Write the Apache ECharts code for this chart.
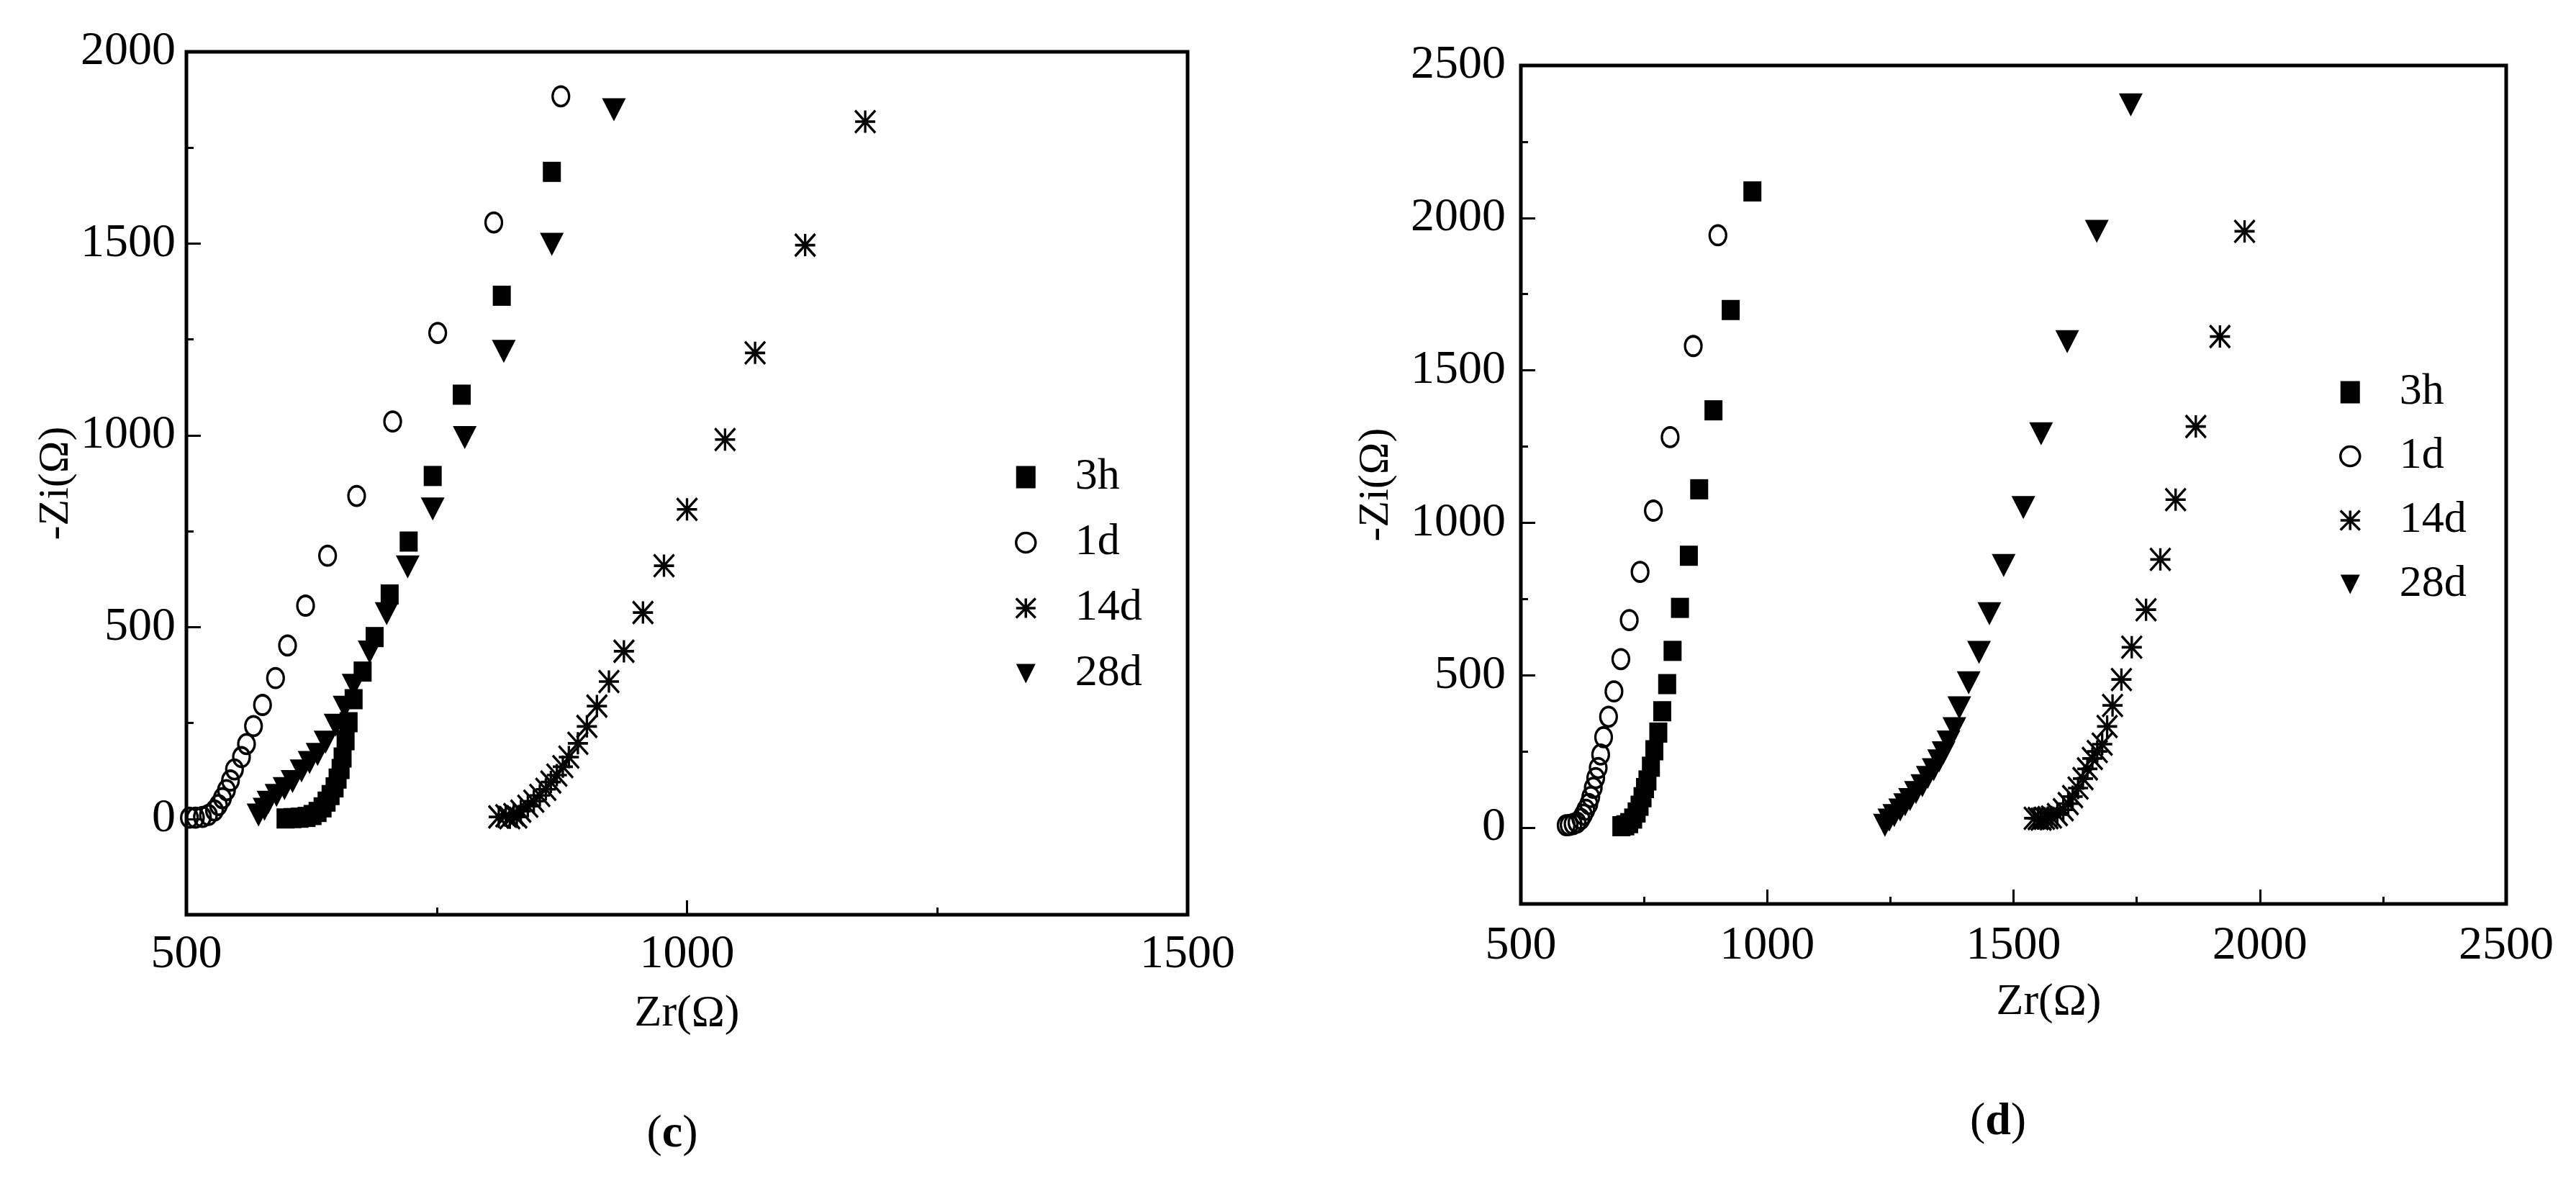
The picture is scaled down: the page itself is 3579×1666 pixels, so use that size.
<!DOCTYPE html>
<html>
<head>
<meta charset="utf-8">
<script src="https://cdn.jsdelivr.net/npm/echarts@6/dist/echarts.min.js"></script>
<style>
html,body{margin:0;padding:0;background:#fff;}
#chart{width:3579px;height:1666px;}
</style>
</head>
<body>
<div id="chart"></div>
<script>
// ---------- data ----------
const seriesNames = ['3h', '1d', '14d', '28d'];

const xMinC = 500, xMaxC = 1500;
const xMinD = 500, xMaxD = 2500;
const yMin = -250, yMaxC = 2000, yMaxD = 2500;
const yTicksC = [0, 500, 1000, 1500, 2000];
const yMinorC = [250, 750, 1250, 1750];
const yTicksD = [0, 500, 1000, 1500, 2000, 2500];
const yMinorD = [250, 750, 1250, 1750, 2250];

// panel (c)
const c3h = [[599,1],[606,2],[613,3],[620,5],[626,10],[631,18],[636,30],[640,45],[644,62],[648,82],[651,105],[654,130],[656,160],[659,205],[662,252],[667,312],[676,384],[688,474],[703,585],[722,723],[746,894],[775,1106],[815,1364],[865,1687]];
const c1d = [[503,3],[509,3],[516,5],[522,10],[528,22],[532,36],[536,54],[540,75],[544,100],[548,129],[555,161],[560,195],[567,242],[576,297],[589,367],[601,452],[619,556],[641,686],[670,842],[706,1036],[751,1267],[807,1555],[874,1884]];
const c14d = [[812,5],[819,8],[823,3],[827,11],[830,5],[834,20],[841,33],[847,46],[853,61],[859,77],[864,96],[870,114],[876,136],[882,161],[891,197],[900,241],[910,294],[922,358],[937,437],[956,538],[977,660],[1000,807],[1038,989],[1068,1215],[1118,1496],[1178,1818]];
const c28d = [[572,10],[578,25],[582,43],[590,61],[598,79],[606,97],[615,125],[623,147],[631,168],[639,200],[649,244],[658,291],[667,348],[683,435],[700,535],[721,657],[746,808],[778,994],[817,1219],[865,1498],[927,1849]];

// panel (d)
const d3h = [[704,5],[712,8],[720,15],[728,30],[735,50],[741,72],[747,100],[752,130],[757,155],[764,200],[771,254],[779,312],[787,382],[797,471],[808,580],[823,721],[841,892],[862,1110],[891,1369],[926,1698],[970,2087]];
const d1d = [[592,8],[598,9],[606,12],[614,17],[622,29],[627,43],[632,59],[638,78],[642,101],[647,131],[652,163],[657,196],[662,240],[668,297],[678,364],[689,447],[703,553],[720,681],[742,839],[769,1040],[803,1281],[850,1580],[900,1943]];
const d14d = [[1542,31],[1550,30],[1556,28],[1563,31],[1570,33],[1577,35],[1589,43],[1601,59],[1611,79],[1620,102],[1631,130],[1641,161],[1650,193],[1660,227],[1670,250],[1680,274],[1690,332],[1701,401],[1719,486],[1740,592],[1769,715],[1798,880],[1829,1076],[1870,1316],[1919,1611],[1969,1956]];
const d28d = [[1239,8],[1248,25],[1258,40],[1270,58],[1280,75],[1290,92],[1302,115],[1315,138],[1326,165],[1338,190],[1349,219],[1358,246],[1368,281],[1380,325],[1390,393],[1409,475],[1430,575],[1451,702],[1480,860],[1520,1050],[1556,1292],[1609,1594],[1669,1956],[1738,2371]];

const panelC = [c3h, c1d, c14d, c28d];
const panelD = [d3h, d1d, d14d, d28d];

// ---------- styles ----------
const FONT = 'Liberation Serif';
const ellipsePath = 'path://M0,-1C0.5523,-1 1,-0.5523 1,0C1,0.5523 0.5523,1 0,1C-0.5523,1 -1,0.5523 -1,0C-1,-0.5523 -0.5523,-1 0,-1Z';
const starPath = 'path://M0,-1L0,1M-1,0L1,0M-1,-1L1,1M-1,1L1,-1';
const triDownPath = 'path://M0,0L2,0L1,2Z';

const symbolStyles = [
  { symbol: 'rect', symbolSize: [25, 28], itemStyle: { color: '#000', borderColor: '#000', borderWidth: 0, opacity: 1 } },
  { symbol: ellipsePath, symbolSize: [23, 27], itemStyle: { color: 'rgba(0,0,0,0)', borderColor: '#000', borderWidth: 3.5, opacity: 1 } },
  { symbol: starPath, symbolSize: [28, 31], itemStyle: { color: '#000', borderColor: '#000', borderWidth: 3.5, opacity: 1 } },
  { symbol: triDownPath, symbolSize: [33, 32], itemStyle: { color: '#000', borderColor: '#000', borderWidth: 0, opacity: 1 } }
];

function makeXAxis(gridIndex, min, max, labelMargin, nameGap, namePadLeft) {
  return {
    type: 'value', gridIndex: gridIndex, min: min, max: max, interval: 500, position: 'bottom',
    axisLine: { show: false, onZero: false },
    axisTick: { show: true, inside: true, length: 20, lineStyle: { color: '#000', width: 3 } },
    minorTick: { show: true, splitNumber: 2, length: 10, lineStyle: { color: '#000', width: 3 } },
    splitLine: { show: false }, minorSplitLine: { show: false },
    axisLabel: { margin: labelMargin, fontFamily: FONT, fontSize: 66, color: '#000', formatter: function (v) { return String(v); } },
    name: 'Zr(Ω)', nameLocation: 'middle', nameGap: nameGap,
    nameTextStyle: { fontFamily: FONT, fontSize: 62, color: '#000', padding: [0, 0, 0, namePadLeft] }
  };
}
function makeYAxis(gridIndex, max, ticks, labelMargin, nameGap) {
  return {
    type: 'value', gridIndex: gridIndex, min: yMin, max: max, position: 'left',
    axisLine: { show: false, onZero: false },
    axisTick: { show: true, inside: true, length: 20, customValues: ticks, lineStyle: { color: '#000', width: 3 } },
    splitLine: { show: false },
    axisLabel: { customValues: ticks, margin: labelMargin, fontFamily: FONT, fontSize: 66, color: '#000', formatter: function (v) { return String(v); } },
    name: '-Zi(Ω)', nameLocation: 'middle', nameGap: nameGap,
    nameTextStyle: { fontFamily: FONT, fontSize: 60, color: '#000' }
  };
}
function makeYMinor(gridIndex, max, ticks) {
  return {
    type: 'value', gridIndex: gridIndex, min: yMin, max: max, position: 'left',
    axisLine: { show: false, onZero: false },
    axisTick: { show: true, inside: true, length: 10, customValues: ticks, lineStyle: { color: '#000', width: 3 } },
    splitLine: { show: false },
    axisLabel: { show: false }
  };
}

const series = [];
seriesNames.forEach(function (name, i) {
  series.push(Object.assign({ type: 'scatter', name: name, xAxisIndex: 0, yAxisIndex: 0, data: panelC[i], z: 2 + i }, symbolStyles[i]));
  series.push(Object.assign({ type: 'scatter', name: name, xAxisIndex: 1, yAxisIndex: 2, data: panelD[i], z: 2 + i }, symbolStyles[i]));
});

const legendData = seriesNames.map(function (n, i) {
  return (i === 1 || i === 2) ? { name: n, itemStyle: { borderWidth: 3.5, borderColor: '#000', opacity: 1 } } : { name: n, itemStyle: { opacity: 1 } };
});
function makeLegend(left, top, gap) {
  return {
    orient: 'vertical', left: left, top: top, padding: 0, itemGap: gap,
    itemWidth: 27, itemHeight: 31, selectedMode: false,
    data: legendData,
    textStyle: { fontFamily: FONT, fontSize: 62, color: '#000', padding: [0, 0, 0, 50] }
  };
}

const option = {
  animation: false,
  backgroundColor: '#fff',
  grid: [
    { left: 259, top: 72, width: 1391, height: 1199, show: true, borderColor: '#000', borderWidth: 5, backgroundColor: 'rgba(0,0,0,0)' },
    { left: 2113, top: 91, width: 1369, height: 1165, show: true, borderColor: '#000', borderWidth: 5, backgroundColor: 'rgba(0,0,0,0)' }
  ],
  xAxis: [
    makeXAxis(0, xMinC, xMaxC, 23, 107, 0),
    makeXAxis(1, xMinD, xMaxD, 26, 106, 98)
  ],
  yAxis: [
    makeYAxis(0, yMaxC, yTicksC, 15, 144),
    makeYMinor(0, yMaxC, yMinorC),
    makeYAxis(1, yMaxD, yTicksD, 21, 171),
    makeYMinor(1, yMaxD, yMinorD)
  ],
  legend: [
    makeLegend(1410, 632, 29),
    makeLegend(3250, 514, 27)
  ],
  graphic: [
    { type: 'text', x: 934, y: 1576, style: { text: '{n|(}{b|c}{n|)}', align: 'center', verticalAlign: 'middle',
      rich: { n: { fontFamily: FONT, fontSize: 64, fill: '#000' }, b: { fontFamily: FONT, fontSize: 64, fontWeight: 'bold', fill: '#000' } } } },
    { type: 'text', x: 2776, y: 1559, style: { text: '{n|(}{b|d}{n|)}', align: 'center', verticalAlign: 'middle',
      rich: { n: { fontFamily: FONT, fontSize: 64, fill: '#000' }, b: { fontFamily: FONT, fontSize: 64, fontWeight: 'bold', fill: '#000' } } } }
  ],
  series: series
};

const chart = echarts.init(document.getElementById('chart'));
chart.setOption(option);
</script>
</body>
</html>
